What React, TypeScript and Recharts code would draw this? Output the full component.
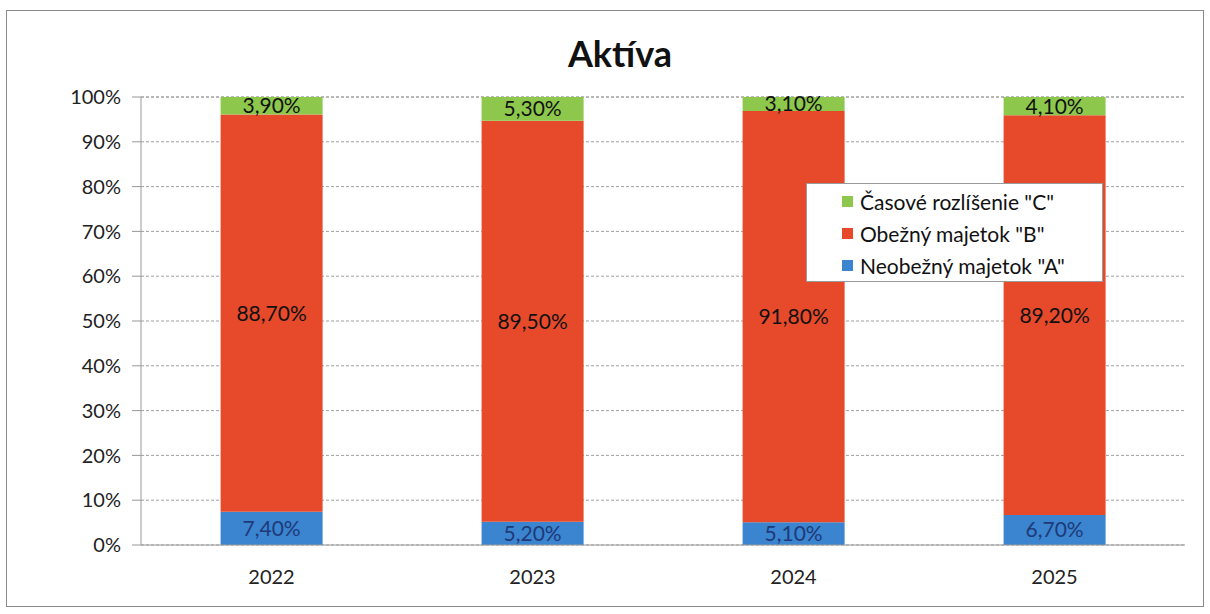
import { BarChart, Bar, XAxis, YAxis, CartesianGrid, LabelList } from 'recharts'

const years = ['2022', '2023', '2024', '2025']
const neobezny = [7.4, 5.2, 5.1, 6.7]
const obezny = [88.7, 89.5, 91.8, 89.2]
const casove = [3.9, 5.3, 3.1, 4.1]
const yTicks = [0, 10, 20, 30, 40, 50, 60, 70, 80, 90, 100]

const FONT = 'Lato, "Open Sans", sans-serif'

const series = [
  { key: 'c', name: 'Časové rozlíšenie "C"', color: '#8dc84d' },
  { key: 'b', name: 'Obežný majetok "B"', color: '#e64a2b' },
  { key: 'a', name: 'Neobežný majetok "A"', color: '#3a84d0' },
]

const data = years.map((y, i) => ({ year: y, a: neobezny[i], b: obezny[i], c: casove[i] }))

const fmt = (v: any) => Number(v).toFixed(2).replace('.', ',') + '%'

function LegendBox() {
  return (
    <div style={{ position: 'absolute', left: 806, top: 183, width: 297, height: 99, boxSizing: 'border-box', background: '#fff', border: '1px solid #9a9a9a', padding: '1px 0 0 35px', fontFamily: FONT, fontSize: 21, color: '#111' }}>
      {series.map(s => (
        <div key={s.key} style={{ display: 'flex', alignItems: 'center', height: 32 }}>
          <span style={{ width: 11, height: 11, background: s.color, display: 'inline-block', marginRight: 7 }} />
          {s.name}
        </div>
      ))}
    </div>
  )
}

export default function App() {
  return (
    <div style={{ position: 'absolute', left: 0, top: 0, width: 1210, height: 614, background: '#fff' }}>
      <div style={{ position: 'absolute', left: 6, top: 10, width: 1196, height: 595, border: '1px solid #8a8a8a' }} />
      <div style={{ position: 'absolute', left: 0, top: 31, width: 1240, textAlign: 'center', fontFamily: FONT, fontWeight: 700, fontSize: 36, color: '#111' }}>
        Aktíva
      </div>
      <div style={{ position: 'absolute', left: 0, top: 0 }}>
        <BarChart width={1210} height={614} data={data} margin={{ top: 97, right: 25, bottom: 43, left: 0 }} barCategoryGap="30.5%">
          <CartesianGrid vertical={false} stroke="#a0a0a0" strokeDasharray="3 2" />
          <XAxis dataKey="year" axisLine={{ stroke: '#999' }} tickLine={false} tickMargin={19}
            tick={{ fontFamily: FONT, fontSize: 20, fill: '#222' }} height={26} />
          <YAxis width={141} domain={[0, 100]} ticks={yTicks} interval={0} tickFormatter={(v: number) => v + '%'}
            axisLine={{ stroke: '#999' }} tickLine={{ stroke: '#999' }} tickSize={9} tickMargin={11}
            tick={{ fontFamily: FONT, fontSize: 20, fill: '#222' }} />
          <Bar dataKey="a" stackId="s" name={series[2].name} fill={series[2].color} isAnimationActive={false}>
            <LabelList dataKey="a" position="center" formatter={fmt} style={{ fontFamily: FONT, fontSize: 21, fill: '#1f3a78' }} />
          </Bar>
          <Bar dataKey="b" stackId="s" name={series[1].name} fill={series[1].color} isAnimationActive={false}>
            <LabelList dataKey="b" position="center" formatter={fmt} style={{ fontFamily: FONT, fontSize: 21, fill: '#111' }} />
          </Bar>
          <Bar dataKey="c" stackId="s" name={series[0].name} fill={series[0].color} isAnimationActive={false}>
            <LabelList dataKey="c" position="center" formatter={fmt} style={{ fontFamily: FONT, fontSize: 21, fill: '#111' }} />
          </Bar>
        </BarChart>
      </div>
      <LegendBox />
    </div>
  )
}
